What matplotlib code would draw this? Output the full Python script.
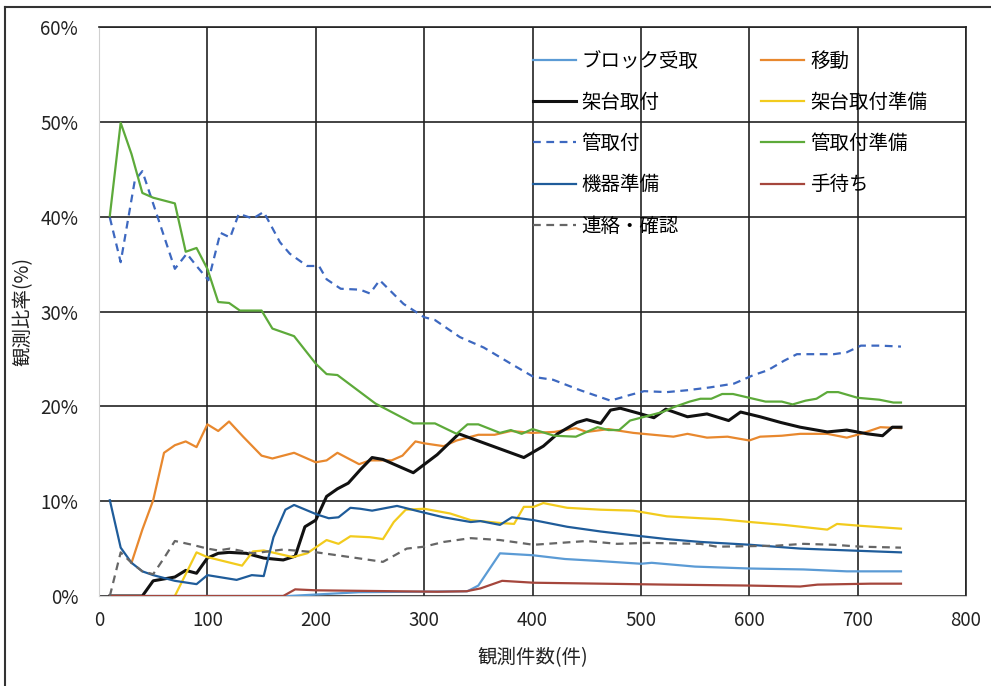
"""観測比率の推移 (work sampling ratio vs. number of observations)."""

import matplotlib

matplotlib.use("Agg")
import matplotlib.pyplot as plt  # noqa: E402
from matplotlib.lines import Line2D  # noqa: E402
from matplotlib.ticker import FuncFormatter, MultipleLocator  # noqa: E402

plt.rcParams["font.family"] = ["Noto Sans CJK JP", "DejaVu Sans"]

# x = 観測件数(件), y = 観測比率(%)
block_x = [10, 175, 240, 340, 350, 370, 400, 430, 460, 500, 510, 550, 600, 650, 690, 740]
block_y = [0, 0, 0.4, 0.5, 1.1, 4.5, 4.3, 3.9, 3.7, 3.4, 3.5, 3.1, 2.9, 2.8, 2.6, 2.6]

idou_x = [30, 40, 50, 60, 70, 80, 90, 100, 110, 120, 133, 150, 160, 180, 200, 210, 220, 240,
          250, 270, 280, 292, 300, 318, 330, 350, 365, 380, 400, 420, 440, 450, 470, 493,
          530, 543, 561, 580, 600, 610, 630, 647, 672, 690, 703, 721, 740]
idou_y = [3.5, 7.0, 10.1, 15.1, 15.9, 16.3, 15.7, 18.1, 17.4, 18.4, 16.8, 14.8, 14.5, 15.1,
          14.1, 14.3, 15.1, 13.9, 14.3, 14.3, 14.8, 16.3, 16.1, 15.8, 16.4, 17.0, 17.0, 17.4,
          17.2, 17.3, 17.7, 17.3, 17.6, 17.2, 16.8, 17.1, 16.7, 16.8, 16.4, 16.8, 16.9, 17.1,
          17.1, 16.7, 17.1, 17.8, 17.7]

kadai_x = [10, 40, 50, 60, 70, 80, 90, 100, 110, 120, 136, 152, 170, 181, 190, 200, 210, 220,
           230, 241, 252, 262, 290, 312, 332, 392, 410, 423, 441, 450, 463, 472, 481, 500,
           512, 523, 543, 561, 581, 592, 610, 629, 647, 672, 690, 709, 723, 732, 740]
kadai_y = [0, 0, 1.6, 1.8, 2.0, 2.7, 2.4, 4.0, 4.5, 4.6, 4.5, 4.0, 3.8, 4.2, 7.3, 8.0, 10.5,
           11.3, 11.9, 13.3, 14.6, 14.4, 13.0, 14.9, 17.1, 14.6, 15.8, 17.1, 18.3, 18.6, 18.2,
           19.6, 19.8, 19.2, 18.8, 19.7, 18.9, 19.2, 18.5, 19.4, 18.9, 18.3, 17.8, 17.3, 17.5,
           17.1, 16.9, 17.8, 17.8]

kadai_prep_x = [70, 90, 100, 132, 142, 152, 179, 192, 210, 221, 232, 250, 262, 272, 283, 300,
                324, 343, 370, 383, 392, 401, 410, 432, 463, 493, 524, 555, 573, 601, 632,
                672, 681, 703, 740]
kadai_prep_y = [0, 4.6, 4.1, 3.2, 4.7, 4.8, 4.1, 4.5, 5.9, 5.5, 6.3, 6.2, 6.0, 7.8, 9.1, 9.2,
                8.7, 8.0, 7.7, 7.6, 9.4, 9.4, 9.8, 9.3, 9.1, 9.0, 8.4, 8.2, 8.1, 7.8, 7.5,
                7.0, 7.6, 7.4, 7.1]

kan_x = [10, 20, 33, 40, 70, 81, 90, 101, 112, 121, 129, 142, 152, 167, 176, 192, 203, 210,
         223, 241, 250, 259, 281, 300, 310, 333, 355, 380, 401, 419, 444, 472, 490, 503, 524,
         543, 564, 586, 604, 617, 632, 644, 660, 678, 690, 703, 721, 740]
kan_y = [39.9, 35.2, 43.8, 44.8, 34.5, 36.1, 34.8, 33.3, 38.3, 37.8, 40.3, 39.8, 40.5, 37.3,
         36.1, 34.8, 34.8, 33.4, 32.4, 32.3, 31.9, 33.3, 30.8, 29.4, 29.1, 27.3, 26.2, 24.5,
         23.1, 22.8, 21.7, 20.6, 21.2, 21.6, 21.5, 21.7, 22.0, 22.4, 23.3, 23.8, 24.8, 25.5,
         25.5, 25.5, 25.7, 26.4, 26.4, 26.3]

kan_prep_x = [10, 20, 30, 40, 50, 70, 80, 90, 100, 110, 120, 130, 150, 160, 180, 200, 210,
              220, 255, 290, 310, 330, 340, 350, 370, 380, 390, 400, 420, 440, 450, 460, 470,
              480, 490, 510, 520, 530, 545, 555, 565, 575, 585, 600, 615, 630, 640, 652, 662,
              672, 682, 700, 720, 733, 740]
kan_prep_y = [40.1, 49.9, 46.6, 42.5, 42.0, 41.4, 36.3, 36.7, 34.5, 31.0, 30.9, 30.1, 30.1,
              28.2, 27.4, 24.5, 23.4, 23.3, 20.3, 18.2, 18.2, 17.1, 18.1, 18.1, 17.2, 17.5,
              17.1, 17.6, 16.9, 16.8, 17.3, 17.8, 17.5, 17.5, 18.5, 19.1, 19.4, 19.9, 20.5,
              20.8, 20.8, 21.3, 21.3, 20.9, 20.5, 20.5, 20.2, 20.6, 20.8, 21.5, 21.5, 20.9,
              20.7, 20.4, 20.4]

kiki_x = [10, 20, 30, 40, 50, 70, 90, 100, 127, 141, 152, 161, 172, 180, 201, 212, 221, 232,
          241, 252, 275, 296, 318, 343, 352, 370, 381, 401, 432, 463, 493, 524, 555, 601, 647,
          693, 740]
kiki_y = [10.1, 5.1, 3.5, 2.6, 2.2, 1.6, 1.25, 2.2, 1.7, 2.2, 2.1, 6.2, 9.1, 9.6, 8.6, 8.2,
          8.3, 9.3, 9.2, 9.0, 9.5, 8.9, 8.3, 7.8, 7.9, 7.5, 8.3, 8.0, 7.3, 6.8, 6.4, 6.0, 5.7,
          5.4, 5.0, 4.8, 4.6]

temachi_x = [10, 170, 181, 200, 312, 339, 352, 372, 401, 463, 524, 600, 647, 663, 712, 740]
temachi_y = [0, 0, 0.7, 0.6, 0.45, 0.5, 0.8, 1.6, 1.4, 1.3, 1.2, 1.1, 1.0, 1.2, 1.3, 1.3]

renraku_x = [10, 20, 30, 40, 50, 60, 70, 86, 100, 110, 121, 142, 170, 201, 238, 262, 284,
             300, 318, 343, 370, 401, 450, 478, 506, 555, 570, 624, 650, 678, 703, 740]
renraku_y = [0, 4.6, 3.5, 2.6, 2.3, 4.0, 5.8, 5.4, 5.0, 4.8, 5.0, 4.5, 4.9, 4.6, 4.0, 3.6,
             5.0, 5.2, 5.7, 6.1, 5.9, 5.4, 5.8, 5.5, 5.6, 5.5, 5.2, 5.3, 5.5, 5.4, 5.2, 5.1]

DASH = (0, (3.5, 2.5))
# (label, x, y, color, linestyle, linewidth) in the workbook's series order
series = [
    ("ブロック受取", block_x, block_y, "#5b9bd5", "-", 1.6),
    ("移動", idou_x, idou_y, "#e8882e", "-", 1.6),
    ("架台取付", kadai_x, kadai_y, "#111111", "-", 2.2),
    ("架台取付準備", kadai_prep_x, kadai_prep_y, "#f2cb1d", "-", 1.6),
    ("管取付", kan_x, kan_y, "#3d68c0", DASH, 1.6),
    ("管取付準備", kan_prep_x, kan_prep_y, "#5daa3a", "-", 1.6),
    ("機器準備", kiki_x, kiki_y, "#1f5c9a", "-", 1.6),
    ("手待ち", temachi_x, temachi_y, "#a5463c", "-", 1.6),
    ("連絡・確認", renraku_x, renraku_y, "#666666", DASH, 1.6),
]

fig = plt.figure(figsize=(9.91, 6.86), dpi=100)
fig.patch.set_facecolor("white")
ax = fig.add_axes([99 / 991, 1 - 596 / 686, 867 / 991, 569 / 686])

handles = {}
for label, xs, ys, color, ls, lw in series:
    (h,) = ax.plot(xs, ys, color=color, ls=ls, lw=lw, label=label, zorder=3)
    handles[label] = h

ax.set_xlim(0, 800)
ax.set_ylim(0, 60)
ax.xaxis.set_major_locator(MultipleLocator(100))
ax.yaxis.set_major_locator(MultipleLocator(10))
ax.yaxis.set_major_formatter(FuncFormatter(lambda v, _: f"{v:.0f}%"))
ax.grid(color="#222222", lw=1.2, zorder=1)
ax.set_axisbelow(True)
ax.tick_params(length=0, labelsize=13.5, colors="#222222")
ax.tick_params(axis="x", pad=10)
ax.tick_params(axis="y", pad=15)
for side in ("left", "bottom"):
    ax.spines[side].set_color("#d0d0d0")
for side in ("top", "right"):
    ax.spines[side].set_color("#222222")
    ax.spines[side].set_linewidth(1.2)

ax.set_xlabel("観測件数(件)", fontsize=14, labelpad=12, color="#222222")
ax.set_ylabel("観測比率(%)", fontsize=14, labelpad=5, color="#222222")

# legend: Excel lays entries out row-wise, matplotlib fills columns first
order = ["ブロック受取", "架台取付", "管取付", "機器準備", "連絡・確認",
         "移動", "架台取付準備", "管取付準備", "手待ち"]
ax.legend([handles[k] for k in order], order, ncol=2, frameon=False, fontsize=14,
          loc="upper left", bbox_to_anchor=(0.4891, 0.9755), borderpad=0,
          handlelength=2.2, handletextpad=0.3, columnspacing=3.24, labelspacing=1.04)

# outer frame of the scanned figure
fig.add_artist(Line2D([5 / 991, 1.0], [1 - 7 / 686] * 2, transform=fig.transFigure,
                      color="#333333", lw=1.5))
fig.add_artist(Line2D([5 / 991] * 2, [0, 1 - 7 / 686], transform=fig.transFigure,
                      color="#333333", lw=1.5))

fig.savefig("out.png", dpi=100)
